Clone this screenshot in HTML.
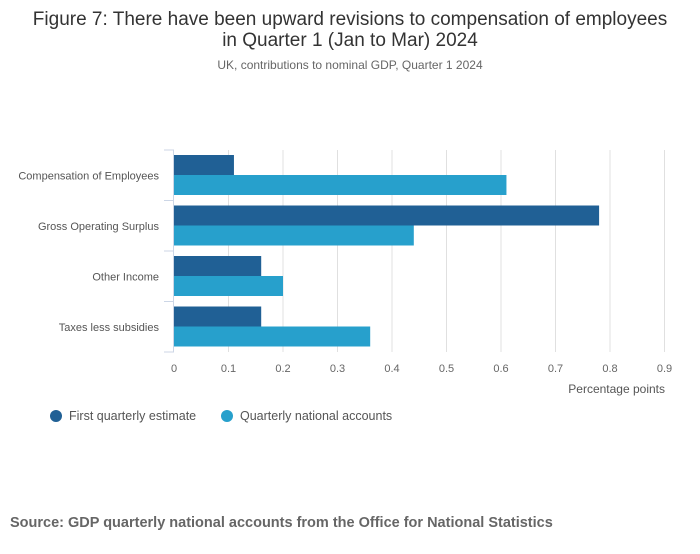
<!DOCTYPE html>
<html><head><meta charset="utf-8"><style>
body{margin:0;background:#fff;font-family:"Liberation Sans",sans-serif;}
svg text{font-family:"Liberation Sans",sans-serif;}
</style></head><body>
<svg width="700" height="549">
<text x="350" y="25" text-anchor="middle" font-size="19" fill="#333">Figure 7: There have been upward revisions to compensation of employees</text>
<text x="350" y="46" text-anchor="middle" font-size="19" fill="#333">in Quarter 1 (Jan to Mar) 2024</text>
<text x="350" y="69" text-anchor="middle" font-size="12" fill="#666">UK, contributions to nominal GDP, Quarter 1 2024</text>
<g id="plot"></g>
<text x="665" y="393" text-anchor="end" font-size="12" fill="#555">Percentage points</text>
<circle cx="56" cy="416" r="6" fill="#206095"/>
<text x="69" y="420" font-size="12.5" fill="#555">First quarterly estimate</text>
<circle cx="227" cy="416" r="6" fill="#27a0cc"/>
<text x="240" y="420" font-size="12.5" fill="#555">Quarterly national accounts</text>
<text x="10" y="527" font-size="14.5" font-weight="bold" fill="#666">Source: GDP quarterly national accounts from the Office for National Statistics</text>
</svg>
<script>
const categories=["Compensation of Employees","Gross Operating Surplus","Other Income","Taxes less subsidies"];
const firstEstimate=[0.11,0.78,0.16,0.16];
const qnaValues=[0.61,0.44,0.20,0.36];
const xTicks=[0,0.1,0.2,0.3,0.4,0.5,0.6,0.7,0.8,0.9];
const NS="http://www.w3.org/2000/svg";
const g=document.getElementById('plot');
const x0=174,x1=664.5,y0=150,y1=352,xmax=0.9;
const X=v=>x0+v/xmax*(x1-x0);
const band=(y1-y0)/categories.length;
function mk(t,a){const e=document.createElementNS(NS,t);for(const k in a)e.setAttribute(k,a[k]);g.appendChild(e);return e;}
xTicks.forEach((t,i)=>{
 if(i>0){const l=mk('line',{x1:X(t),x2:X(t),y1:y0,y2:y1,stroke:'#e0e0e0'});
 
 }
 const tx=mk('text',{x:X(t),y:372,'text-anchor':'middle','font-size':'11',fill:'#666'});tx.textContent=t;
 
 
});
const ax=mk('line',{x1:x0-0.5,x2:x0-0.5,y1:y0,y2:y1,stroke:'#ccd6e6'});


for(let i=0;i<=categories.length;i++){const y=y0+i*band;const t=mk('line',{x1:164,x2:x0,y1:y,y2:y,stroke:'#ccd6e6'});
 
 }
categories.forEach((c,i)=>{
 const yb=y0+i*band;
 const b1=mk('rect',{x:x0,y:yb+5,width:X(firstEstimate[i])-x0,height:20,fill:'#206095'});
 
 
 const b2=mk('rect',{x:x0,y:yb+25,width:X(qnaValues[i])-x0,height:20,fill:'#27a0cc'});
 
 
 const t=mk('text',{x:159,y:yb+band/2+4,'text-anchor':'end','font-size':'11',fill:'#555'});t.textContent=c;
 
 
});
</script>
</body></html>
